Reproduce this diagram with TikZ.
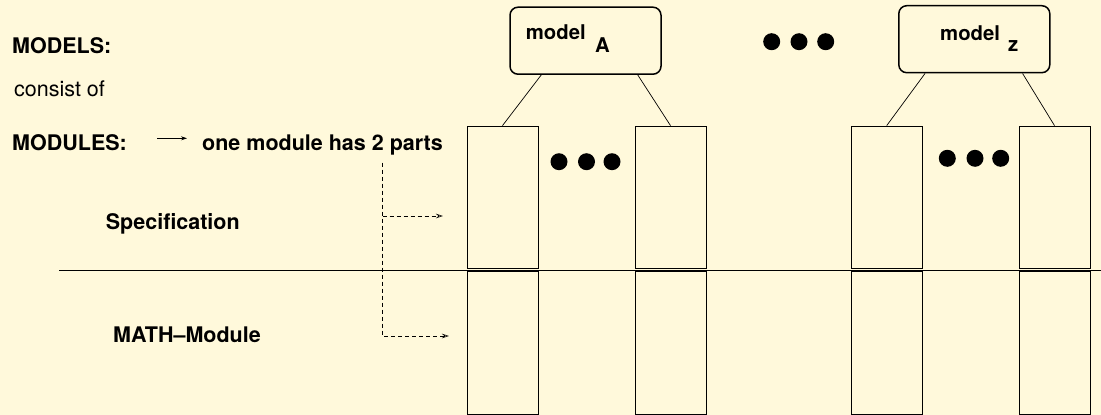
\documentclass[tikz,border=0pt]{standalone}
\usepackage{fontspec}
\setmainfont{TeX Gyre Heros}
\usetikzlibrary{arrows.meta,positioning}
\definecolor{paper}{RGB}{255,249,219}
\tikzset{font=\fontsize{21.5}{25}\selectfont\bfseries}
\tikzset{every node/.append style={inner sep=0pt}}
\tikzset{modbox/.style={draw,line width=.8pt,minimum width=71pt,minimum height=142.5pt}}
\tikzset{modelbox/.style={draw,line width=1.5pt,rounded corners=8pt,minimum width=151pt,minimum height=67pt}}
\tikzset{boxtext/.style={anchor=base west,font=\fontsize{20.3}{24}\selectfont\bfseries}}
\tikzset{dashline/.style={dash pattern=on 4pt off 3pt,line width=.6pt,-{Stealth[open,length=7pt,width=4.5pt]}}}

\begin{document}
\begin{tikzpicture}[x=1pt,y=-1pt]
\fill[paper] (0,0) rectangle (1101,415);
\useasboundingbox (0,0) rectangle (1101,415);
% left column
\node[anchor=base west] (models) at (12,53.3) {MODELS:};
\node[anchor=base west,font=\fontsize{21.5}{25}\selectfont] (consist) at (14,96.7) {consist of};
\node[anchor=base west] (modules) at (12,150) {MODULES:};
\node[anchor=base west] (parts) at (202,150) {one module has 2 parts};
\node[anchor=base west] (spec) at (105.7,229) {Specification};
\node[anchor=base west] (math) at (113,342.7) {MATH--Module};
\coordinate (arrS) at (157,138.3);
\coordinate (arrE) at (187,138.3);
\draw[line width=.7pt,-{Stealth[length=6pt,width=4pt]}] (arrS) -- (arrE);
% the two parts
\draw[line width=1pt] (59,270) -- (1101,270);
\foreach \n/\x in {A1/502.5, An/670.5, Z1/886.7, Zn/1054.5} {
  \node[modbox] (spec\n) at (\x,197.25) {};
  \node[modbox] (math\n) at (\x,342.75) {};
}
\coordinate (split) at (382.7,162.7);
\coordinate (toSpec) at (443,216);
\coordinate (toMath) at (449,336);
\draw[dashline] (split) |- (toMath);
\draw[dashline] (split |- toSpec) -- (toSpec);
% models on top
\node[modelbox] (modelA) at (585.5,40.7) {};
\node[modelbox] (modelZ) at (974.3,39.2) {};
\node[boxtext] (nameA) at (525.7,39.3) {model};
\node[boxtext] (subA) at (595,52.7) {A};
\node[boxtext] (nameZ) at (940,40.7) {model};
\node[boxtext] (subZ) at (1008,51.7) {z};
\draw[line width=.7pt] ([xshift=32pt]modelA.south west) -- (specA1.north);
\draw[line width=.7pt] ([xshift=-24pt]modelA.south east) -- (specAn.north);
\draw[line width=.7pt] ([xshift=27pt]modelZ.south west) -- (specZ1.north);
\draw[line width=.7pt] ([xshift=-28pt]modelZ.south east) -- (specZn.north);
% dots
\foreach \x in {771.7, 799, 825.7} \fill (\x,41.7) circle (8.5pt);
\foreach \x in {559, 586.5, 612} \fill (\x,161.7) circle (8.5pt);
\foreach \x in {947.3, 975, 1000.7} \fill (\x,158.3) circle (8.5pt);
\end{tikzpicture}
\end{document}
